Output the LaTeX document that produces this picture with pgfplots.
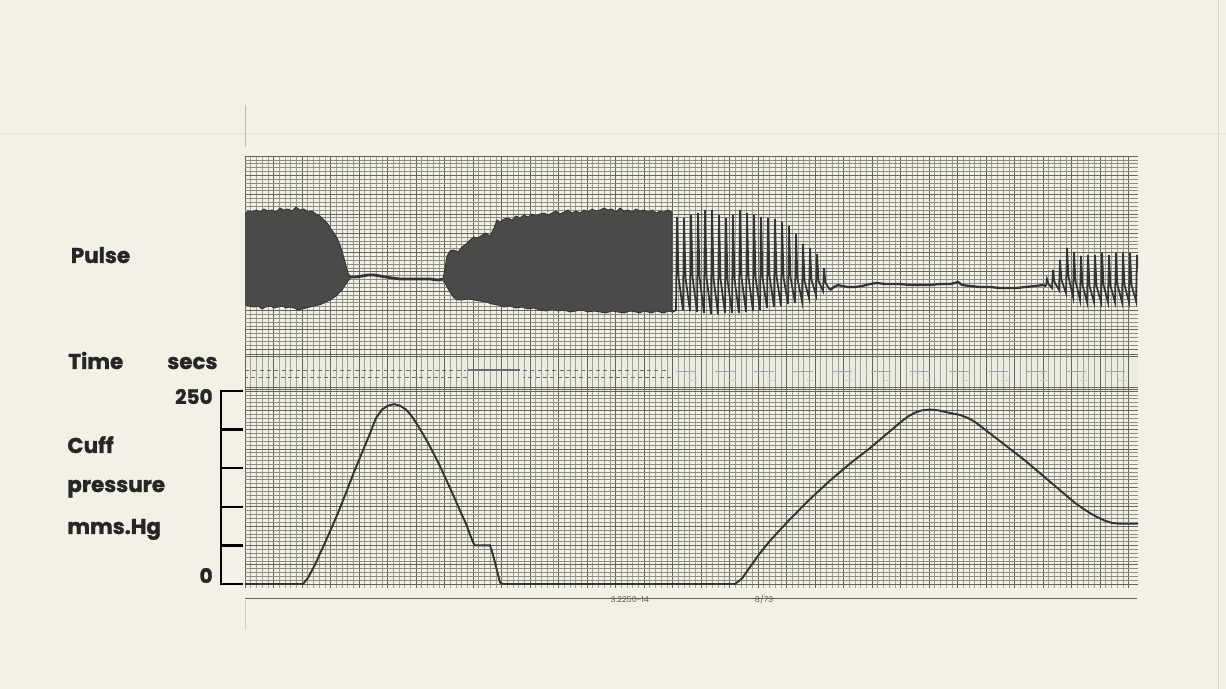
\documentclass[border=0pt]{standalone}
\usepackage{pgfplots}
\pgfplotsset{compat=1.18}
\usepackage{fontspec}
\setmainfont{Poppins}
\newfontfamily\lab{Poppins}[BoldFeatures={FakeBold=1.3}]
\definecolor{paper}{RGB}{242,240,231}
\definecolor{strip}{RGB}{236,235,227}
\definecolor{ink}{RGB}{52,52,50}
\definecolor{dense}{RGB}{74,74,72}
\definecolor{gmaj}{RGB}{100,100,95}
\definecolor{gminy}{RGB}{140,140,134}
\definecolor{gminx}{RGB}{160,160,153}
\definecolor{lbl}{RGB}{38,38,36}

\pgfplotsset{
  paperaxis/.style={
    scale only axis, width=178.6mm, anchor=south west,
    xmin=245, xmax=1138,
    axis line style={draw=none}, tick style={draw=none},
    xticklabels={}, yticklabels={},
    major tick length=0pt, minor tick length=0pt,
    xtick={245,273.5,...,1140}, minor x tick num=4,
    major grid style={gmaj,line width=0.45pt},
    minor x grid style={gminx,line width=0.28pt},
    minor y grid style={gminy,line width=0.32pt},
  }
}

\begin{document}
\begin{tikzpicture}
\fill[paper] (0mm,0mm) rectangle (245.2mm,-137.8mm);
% faint paper marks
\draw[color={rgb,255:red,228;green,226;blue,217}, line width=0.4pt] (0mm,-26.6mm) -- (245.2mm,-26.6mm);
\draw[gray!55, line width=0.3pt] (49mm,-21mm) -- (49mm,-29.5mm);
\draw[gray!40, line width=0.3pt] (49mm,-120mm) -- (49mm,-126mm);
\draw[gray!35, line width=0.4pt] (243.6mm,0mm) -- (243.6mm,-137.8mm);

% ---------------- Pulse panel ----------------
\begin{axis}[paperaxis, at={(49mm,-70.8mm)}, height=39.6mm,
  ymin=156, ymax=354, y dir=reverse,
  ytick={156,175.3,...,354}, minor y tick num=4, grid=both]
% dense section 1
\addplot[fill=dense, draw=ink, line width=0.5pt] coordinates {
(245,214) (248,211) (252,212) (256,210) (260,212) (264,209) (268,211) (272,210) (276,212) (280,208) (284,210) (288,209) (292,211) (296,207) (300,210) (304,209) (308,212) (312,211) (316,214) (320,216) (324,220) (328,224) (331,229) (334,233) (337,238) (340,245) (342,251) (344,258) (346,266) (348,273) (350,276)
(350,279) (348,281) (346,284) (344,287) (342,290) (339,293) (336,296) (333,298) (330,300) (326,302) (322,304) (318,305) (314,306) (310,307) (306,308) (302,309) (298,310) (294,308) (290,307) (286,308) (282,306) (278,307) (274,308) (270,306) (266,307) (262,309) (258,306) (254,307) (250,306) (246,305) (245,305)};
% flat section 1
\addplot[ink, line width=1.6pt] coordinates {
(349,277) (356,277) (362,276) (368,275) (374,275) (380,276) (386,277) (392,278) (400,279) (410,279) (420,279) (430,279) (438,280) (444,279)};
% dense section 2
\addplot[fill=dense, draw=ink, line width=0.5pt] coordinates {
(443,279) (445,268) (447,256) (450,251) (454,250) (458,252) (462,247) (466,244) (470,240) (474,237) (478,238) (482,235) (486,233) (490,236) (494,228) (497,220) (500,222) (504,219) (508,218) (512,220) (516,216) (520,218) (524,215) (528,217) (532,214) (536,216) (540,214) (544,213) (548,215) (552,213) (556,211) (560,214) (564,212) (568,210) (572,213) (576,211) (580,213) (584,210) (588,212) (592,209) (596,211) (600,210) (604,208) (608,210) (612,209) (616,212) (620,208) (624,211) (628,210) (632,212) (636,209) (640,211) (644,210) (648,212) (652,210) (656,213) (660,211) (664,212) (668,210) (672,212)
(672,312) (668,311) (664,313) (660,312) (656,311) (652,313) (648,312) (644,311) (640,313) (636,312) (630,311) (624,313) (618,312) (612,311) (606,313) (600,312) (594,311) (588,312) (582,310) (576,311) (570,312) (564,310) (558,311) (552,309) (546,311) (540,310) (534,308) (528,309) (522,307) (516,308) (510,306) (504,307) (498,305) (492,304) (486,302) (480,301) (474,300) (468,299) (462,300) (458,300) (454,298) (450,292) (447,287) (445,283) (443,281)};
% individual beats, flat section 2, returning beats
\addplot[ink, line width=1pt] coordinates {
(672,312) (676,310) (677,217) (678.5,277) (683,310) (684,218) (685.5,278) (690,311) (691,215) (692.5,277) (697,312) (698,213) (699.5,277) (704,313) (705,210) (706.5,277) (711,314) (712,210) (713.5,278) (718,314) (719,215) (720.5,279) (725,313) (726,218) (727.5,280) (732,313) (733,215) (734.5,279) (739,313) (740,210) (741.5,277) (746,312) (747,213) (748.5,277) (753,311) (754,215) (755.5,277) (760,310) (761,217) (762.5,277) (767,308) (768,218) (769.5,276) (774,307) (775,219) (776.5,276) (781,306) (782,222) (783.5,277) (788,304) (789,226) (790.5,277) (795,303) (796,234) (797.5,279) (802,301) (803,244) (804.5,281) (809,298) (810,248) (811.5,280) (816,295) (817,254) (818.5,281) (823,291) (824,268) (825.5,283) (830,290)};
\addplot[ink, line width=1.3pt] coordinates {
(830,290) (834,287) (838,285) (842,286) (848,287) (855,287) (862,286) (870,284) (877,283) (885,284) (893,284) (900,284) (910,285) (920,285) (930,285) (940,284) (950,284) (955,283) (958,282) (962,285) (970,286) (980,287) (990,287) (1000,288) (1010,288) (1017,288) (1025,287) (1035,286) (1043,285) (1046,286)};
\addplot[ink, line width=1pt] coordinates {
(1046,286) (1047,279) (1048.5,284) (1052,288) (1053,270) (1054.5,282) (1059,290) (1060,260) (1061.5,280) (1066,293) (1067,248) (1068.5,277) (1073,297) (1074,252) (1075.5,281) (1080,300) (1081,256) (1082.5,285) (1087,302) (1088,255) (1089.5,286) (1094,302) (1095,255) (1096.5,286) (1101,302) (1102,253) (1103.5,285) (1108,302) (1109,255) (1110.5,286) (1115,302) (1116,253) (1117.5,285) (1122,302) (1123,253) (1124.5,285) (1129,302) (1130,253) (1131.5,285) (1136,301) (1137,255) (1138,268)};
\end{axis}

% ---------------- Time strip ----------------
\begin{axis}[paperaxis, at={(49mm,-78mm)}, height=7.2mm,
  ymin=354, ymax=390, y dir=reverse, ytick=\empty,
  xmajorgrids, xminorgrids,
  axis background/.style={fill=strip}]
\addplot[gmaj, line width=0.5pt] coordinates {(245,354.6) (1138,354.6)};
\addplot[gmaj, line width=0.5pt] coordinates {(245,356.8) (1138,356.8)};
\addplot[gmaj, line width=0.5pt] coordinates {(245,387.5) (1138,387.5)};
\addplot[gmaj, line width=0.5pt] coordinates {(245,389.6) (1138,389.6)};
\addplot[gray!85!black, line width=0.5pt, dash pattern=on 0.8mm off 0.66mm] coordinates {(245,370) (466,370)};
\addplot[gray!85!black, line width=0.5pt, dash pattern=on 0.8mm off 0.66mm, dash phase=0.4mm] coordinates {(246,377) (468,377)};
\addplot[gray!85!black, line width=0.6pt] coordinates {(468,370) (520,370)};
\addplot[gray!85!black, line width=0.5pt, dash pattern=on 0.8mm off 0.66mm] coordinates {(523,370) (668,370)};
\addplot[gray!85!black, line width=0.5pt, dash pattern=on 0.8mm off 0.66mm, dash phase=0.4mm] coordinates {(523,377) (672,377)};
\addplot[gray!70, line width=0.5pt, dash pattern=on 4mm off 3.8mm] coordinates {(676,371) (1138,371)};
\addplot[gray!40, line width=0.4pt, dash pattern=on 1.6mm off 6.2mm, dash phase=-2.6mm] coordinates {(676,380) (1138,380)};
\end{axis}

% ---------------- Cuff pressure panel ----------------
\begin{axis}[paperaxis, at={(49mm,-117.6mm)}, height=39.6mm,
  ymin=-5.18, ymax=251.3,
  ytick={0,25,...,250}, minor y tick num=4, grid=both]
\addplot[ink, line width=1.1pt] coordinates {
(245,0) (303,0) (308,8) (315,25) (322,45) (330,68) (338,92) (346,118) (354,145) (362,170) (370,195) (376,215) (382,226) (388,231) (394,233) (400,231) (406,226) (412,217) (418,205) (424,192) (430,178) (436,163) (442,147) (448,130) (454,113) (460,95) (466,78) (470,64) (473,54) (475,50) (490,50) (492,42) (495,28) (498,12) (500,2) (503,0)
(735,0) (742,7) (750,22) (760,40) (770,56) (780,70) (790,84) (800,97) (810,110) (820,122) (830,134) (840,145) (850,156) (860,166) (870,176) (880,187) (890,198) (900,209) (908,217) (915,222) (922,225) (930,226) (938,225) (945,223) (952,221) (960,219) (968,215) (975,210) (985,200) (995,190) (1005,180) (1015,170) (1025,160) (1035,149) (1045,138) (1055,127) (1065,116) (1075,105) (1085,96) (1095,88) (1105,82) (1112,79) (1120,78) (1138,78)};
\end{axis}

% ---------------- pressure scale bracket ----------------
\begin{axis}[scale only axis, anchor=south west, at={(44.2mm,-116.8mm)},
  width=4.4mm, height=38.6mm, xmin=0, xmax=1, ymin=0, ymax=250,
  axis x line=none, axis y line*=left,
  ytick={0,50,...,250}, yticklabels={}, tick align=inside,
  major tick length=4.4mm,
  tick style={black, line width=1.4pt},
  axis line style={black, line width=1.4pt, shorten >=-0.7pt, shorten <=-0.7pt}]
\addplot[draw=none] coordinates {(0,0) (1,250)};
\end{axis}

% bottom rule and stamps
\draw[gray!75!black, line width=0.7pt] (49mm,-119.7mm) -- (227.4mm,-119.7mm);
\node[anchor=base, inner sep=0pt, text=gray!70!black, font=\fontsize{4.6}{5}\selectfont] at (126mm,-120.6mm) {S.2250-14};
\node[anchor=base, inner sep=0pt, text=gray!70!black, font=\fontsize{4.6}{5}\selectfont] at (152.8mm,-120.6mm) {8/73};

% labels
\begin{scope}[every node/.style={inner sep=0pt, text=lbl, font=\lab\bfseries\fontsize{12.2}{14}\selectfont}]
\node[anchor=base west] at (14.1mm,-52.6mm) {Pulse};
\node[anchor=base west] at (13.6mm,-73.8mm) {Time};
\node[anchor=base west] at (33.4mm,-73.8mm) {secs};
\node[anchor=base west] at (13.4mm,-90.6mm) {Cuff};
\node[anchor=base west] at (13.4mm,-98.4mm) {pressure};
\node[anchor=base west] at (13.4mm,-106.8mm) {mms.Hg};
\node[anchor=base east, font=\lab\bfseries\fontsize{11.4}{13}\selectfont] at (42.6mm,-80.8mm) {250};
\node[anchor=base east, font=\lab\bfseries\fontsize{11.4}{13}\selectfont] at (42.6mm,-116.6mm) {0};
\end{scope}

\pgfresetboundingbox
\path[use as bounding box] (0mm,0mm) rectangle (245.2mm,-137.8mm);
\end{tikzpicture}
\end{document}
